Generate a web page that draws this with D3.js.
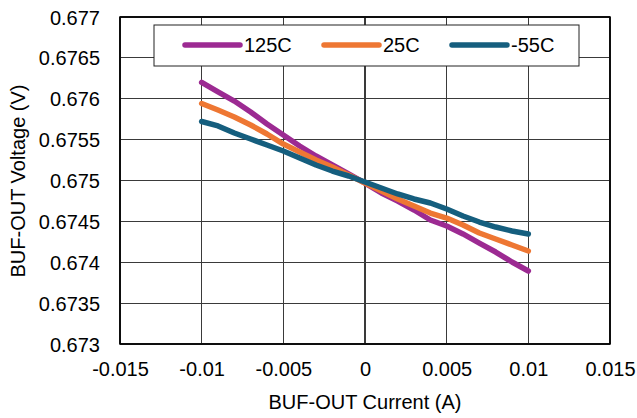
<!DOCTYPE html>
<html><head><meta charset="utf-8">
<script src="https://cdn.jsdelivr.net/npm/d3@7"></script>
<style>body{margin:0;background:#fff}svg{display:block}text{font-family:"Liberation Sans",Arial,sans-serif;fill:#000}</style>
</head><body><svg id="c" width="637" height="418"></svg>
<script>
const current = [-0.01,-0.009,-0.008,-0.007,-0.006,-0.005,-0.004,-0.003,-0.002,-0.001,0,0.001,0.002,0.003,0.004,0.005,0.006,0.007,0.008,0.009,0.01];
const v125 = [0.676199,0.676083,0.675972,0.675838,0.675691,0.675557,0.675422,0.675300,0.675190,0.675080,0.674969,0.674847,0.674749,0.674639,0.674517,0.674443,0.674346,0.674235,0.674125,0.674003,0.673893];
const v25 = [0.675942,0.675862,0.675777,0.675679,0.675569,0.675446,0.675349,0.675251,0.675165,0.675067,0.674969,0.674872,0.674774,0.674688,0.674602,0.674541,0.674456,0.674358,0.674284,0.674211,0.674138];
const vm55 = [0.675722,0.675667,0.675581,0.675508,0.675434,0.675361,0.675275,0.675190,0.675116,0.675055,0.674982,0.674908,0.674835,0.674774,0.674725,0.674651,0.674566,0.674492,0.674431,0.674382,0.674346];
const seriesNames = ["125C","25C","-55C"];
const colors = ["#9C2A92","#EE7733","#155E7E"];
const xTicks = [-0.015,-0.01,-0.005,0,0.005,0.01,0.015];
const yTicks = [0.673,0.6735,0.674,0.6745,0.675,0.6755,0.676,0.6765,0.677];

const svg = d3.select("#c");
const L=120,R=610,T=17,B=344;
const FS = "20px";
const x = d3.scaleLinear().domain([-0.015,0.015]).range([L,R]);
const y = d3.scaleLinear().domain([0.673,0.677]).range([B,T]);

// grid
svg.append("g").selectAll("line").data(xTicks).join("line")
  .attr("x1",d=>x(d)).attr("x2",d=>x(d)).attr("y1",T).attr("y2",B)
  .attr("stroke","#3a3a3a").attr("stroke-width",1.2).attr("shape-rendering","crispEdges");
svg.append("g").selectAll("line").data(yTicks).join("line")
  .attr("x1",L).attr("x2",R).attr("y1",d=>y(d)).attr("y2",d=>y(d))
  .attr("stroke","#3a3a3a").attr("stroke-width",1.2).attr("shape-rendering","crispEdges");
svg.append("rect").attr("x",L).attr("y",T).attr("width",R-L).attr("height",B-T)
  .attr("fill","none").attr("stroke","#000").attr("stroke-width",1.5);

// axes labels
const xa = d3.axisBottom(x).tickValues(xTicks).tickSize(0).tickPadding(0).tickFormat(d=>String(+d.toFixed(3)));
const gx = svg.append("g").attr("transform",`translate(0,${B})`).call(xa);
gx.select(".domain").remove();
gx.selectAll("text").attr("dy",0).attr("y",32).style("font-size",FS).attr("font-family","Liberation Sans, Arial, sans-serif");
const ya = d3.axisLeft(y).tickValues(yTicks).tickSize(0).tickPadding(0).tickFormat(d=>String(+d.toFixed(4)));
const gy = svg.append("g").attr("transform",`translate(100,0)`).call(ya);
gy.select(".domain").remove();
gy.selectAll("text").attr("x",0).attr("dy","0.35em").style("font-size",FS).attr("font-family","Liberation Sans, Arial, sans-serif");

svg.append("text").attr("x",365).attr("y",409).attr("text-anchor","middle").style("font-size",FS).text("BUF-OUT Current (A)");
svg.append("text").attr("transform","translate(25,181) rotate(-90)").attr("text-anchor","middle").style("font-size",FS).text("BUF-OUT Voltage (V)");

// lines
const allSeries = [v125,v25,vm55];
const line = d3.line().x((d,i)=>x(current[i])).y(d=>y(d));
allSeries.forEach((s,k)=>{
  svg.append("path").datum(s).attr("d",line).attr("fill","none")
    .attr("stroke",colors[k]).attr("stroke-width",5.5).attr("stroke-linecap","round").attr("stroke-linejoin","round");
});

// legend
svg.append("rect").attr("x",154).attr("y",25).attr("width",425).attr("height",41)
  .attr("fill","#fff").attr("stroke","#222").attr("stroke-width",1);
const legX = [185,324,452];
seriesNames.forEach((n,k)=>{
  svg.append("line").attr("x1",legX[k]).attr("x2",legX[k]+55).attr("y1",45).attr("y2",45)
    .attr("stroke",colors[k]).attr("stroke-width",5.5).attr("stroke-linecap","round");
  svg.append("text").attr("x",legX[k]+59).attr("y",52).style("font-size",FS).text(n);
});
</script></body></html>
